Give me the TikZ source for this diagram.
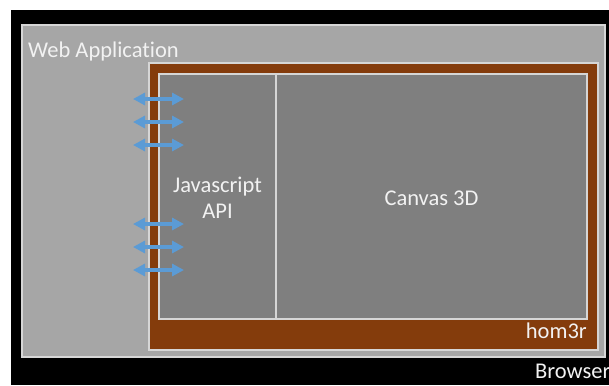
\documentclass[tikz,border=0pt]{standalone}
\usepackage{fontspec}
\setmainfont{Carlito}[Ligatures=CommonOff]
\usetikzlibrary{arrows.meta}
\definecolor{appgray}{HTML}{A6A6A6}
\definecolor{edgegray}{HTML}{D6D6D6}
\definecolor{homrust}{HTML}{843C0C}
\definecolor{paneldark}{HTML}{7F7F7F}
\definecolor{linkblue}{HTML}{5B9BD5}
\definecolor{labelwhite}{HTML}{F2F2F2}
\tikzset{
  region/.style={rectangle, anchor=north west, inner sep=0pt, outer sep=0pt},
  framed/.style={region, draw=edgegray, line width=1.3bp},
  caption/.style={inner sep=0pt, text=labelwhite, font=\fontsize{22.5bp}{27bp}\selectfont},
  apilink/.style={draw=linkblue, line width=3.5bp,
    {Triangle[length=12bp,width=12bp]}-{Triangle[length=12bp,width=12bp]}}
}
\begin{document}
\begin{tikzpicture}[x=1bp, y=-1bp]
\useasboundingbox (0,0) rectangle (609,385);
\fill[white] (0,0) rectangle (609,385);
% browser window
\node[region, fill=black, minimum width=598bp, minimum height=375bp] (browser) at (11,10) {};
% web application area
\node[framed, fill=appgray, minimum width=583bp, minimum height=332bp] (webapp) at (22,25) {};
% hom3r frame
\node[framed, fill=homrust, minimum width=449bp, minimum height=287bp] (hom3r) at (149,63) {};
% inner panels
\node[framed, fill=paneldark, minimum width=117bp, minimum height=245bp] (api) at (159,74) {};
\node[framed, fill=paneldark, minimum width=311bp, minimum height=245bp] (canvas) at (276,74) {};
% labels
\node[caption, anchor=base west] (webapplbl) at (28,57) {Web Application};
\node[caption, anchor=base] (apilbla) at (217.5,192) {Javascript};
\node[caption, anchor=base] (apilblb) at (217.5,218) {API};
\node[caption, anchor=base] (canvaslbl) at (431.5,205) {Canvas 3D};
\node[caption, anchor=base east] (homlbl) at (587,338) {hom3r};
\node[caption, anchor=base west] (browserlbl) at (535,378) {Browser};
% API calls between the application and hom3r
\foreach \i/\yy in {1/99,2/122,3/145,4/224,5/247,6/270}{
  \coordinate (append\i) at (133,\yy);
  \coordinate (apiend\i) at (184,\yy);
  \draw[apilink] (append\i) -- (apiend\i);
}
\end{tikzpicture}
\end{document}
